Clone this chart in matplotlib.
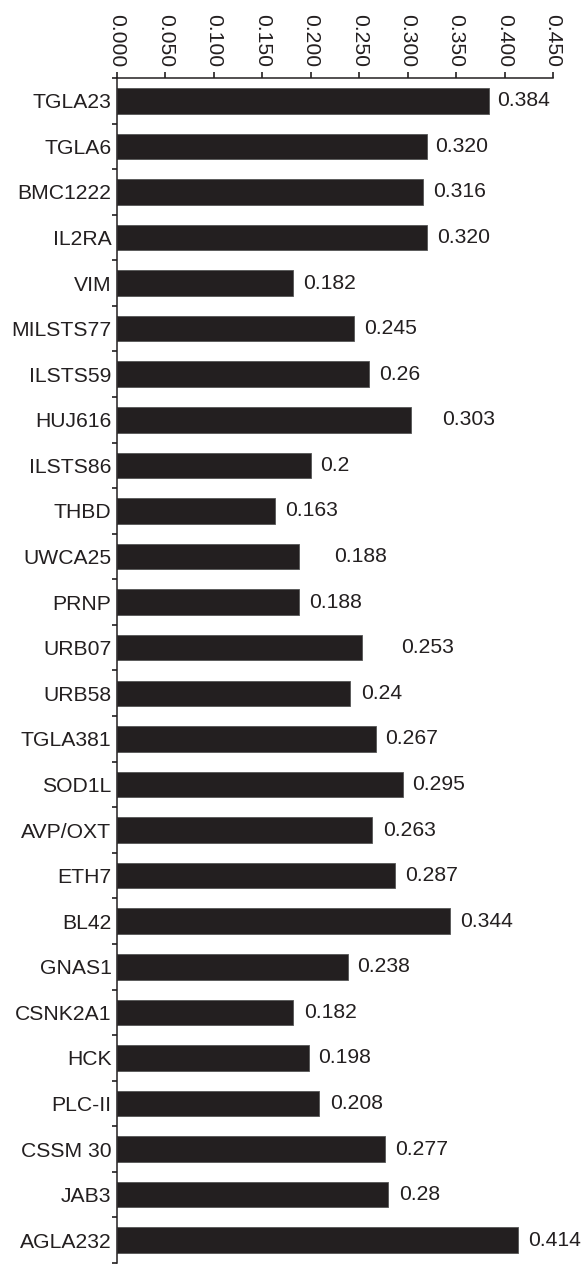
import matplotlib
matplotlib.use("Agg")
import matplotlib.pyplot as plt
import numpy as np
from matplotlib.ticker import FixedLocator

markers = [
    "TGLA23", "TGLA6", "BMC1222", "IL2RA", "VIM", "MILSTS77", "ILSTS59",
    "HUJ616", "ILSTS86", "THBD", "UWCA25", "PRNP", "URB07", "URB58",
    "TGLA381", "SOD1L", "AVP/OXT", "ETH7", "BL42", "GNAS1", "CSNK2A1",
    "HCK", "PLC-II", "CSSM 30", "JAB3", "AGLA232",
]
values = [
    0.384, 0.320, 0.316, 0.320, 0.182, 0.245, 0.26,
    0.303, 0.2, 0.163, 0.188, 0.188, 0.253, 0.24,
    0.267, 0.295, 0.263, 0.287, 0.344, 0.238, 0.182,
    0.198, 0.208, 0.277, 0.28, 0.414,
]
value_labels = [
    "0.384", "0.320", "0.316", "0.320", "0.182", "0.245", "0.26",
    "0.303", "0.2", "0.163", "0.188", "0.188", "0.253", "0.24",
    "0.267", "0.295", "0.263", "0.287", "0.344", "0.238", "0.182",
    "0.198", "0.208", "0.277", "0.28", "0.414",
]
# a few labels sit further from their bar in the original
label_gap_pt = [
    6, 6, 7, 7, 7, 7, 7,
    23, 7, 7, 25, 7, 28, 8,
    7, 7, 8, 7, 7, 7, 8,
    7, 8, 7, 8, 7,
]
x_ticks = [0.0, 0.05, 0.10, 0.15, 0.20, 0.25, 0.30, 0.35, 0.40, 0.45]

plt.rcParams["font.family"] = ["Liberation Sans", "DejaVu Sans"]
FS = 15.2
INK = "#231f20"

fig = plt.figure(figsize=(5.86, 12.74), dpi=100)
ax = fig.add_axes([117 / 586, 1 - 1263 / 1274, (553 - 117) / 586, (1263 - 78) / 1274])

pos = np.arange(len(markers))
ax.barh(pos, values, height=0.56, color=INK, edgecolor="#555555", linewidth=0.6)

for y, v, lab, gap in zip(pos, values, value_labels, label_gap_pt):
    ax.annotate(lab, (v, y), xytext=(gap, 0), textcoords="offset points",
                ha="left", va="center", fontsize=FS, color=INK)

ax.set_xlim(0, 0.45)
ax.set_ylim(len(markers) - 0.5, -0.5)

ax.xaxis.tick_top()
ax.set_xticks(x_ticks)
ax.set_xticklabels([f"{t:.3f}" for t in x_ticks], rotation=270, fontsize=FS, color=INK)
ax.tick_params(axis="x", direction="out", length=4, width=1.2, pad=4, colors=INK)

ax.set_yticks(pos)
ax.set_yticklabels(markers, fontsize=FS, color=INK)
ax.yaxis.set_minor_locator(FixedLocator(np.arange(-0.5, len(markers), 1.0)))
ax.tick_params(axis="y", which="major", length=0, pad=4)
ax.tick_params(axis="y", which="minor", direction="out", length=3.5, width=1.2, color=INK)

for side in ("right", "bottom"):
    ax.spines[side].set_visible(False)
for side in ("left", "top"):
    ax.spines[side].set_linewidth(1.1)
    ax.spines[side].set_color(INK)

fig.savefig("out.png", dpi=100)
